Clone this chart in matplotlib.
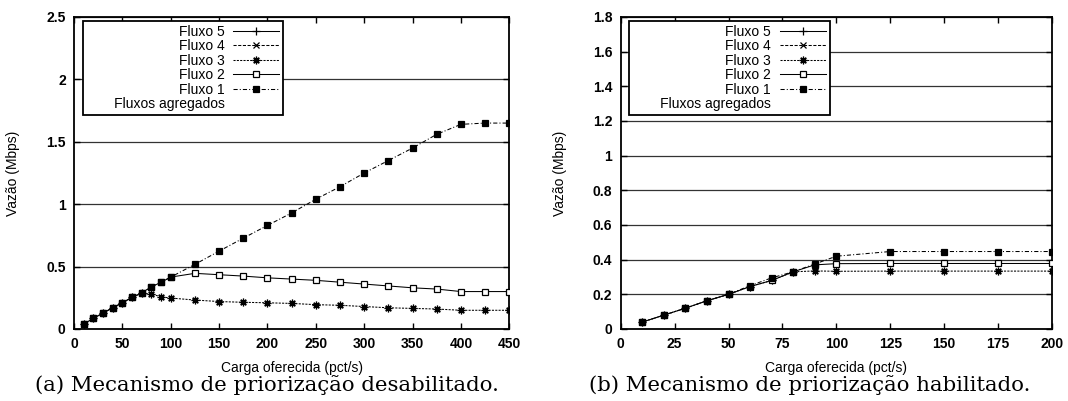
import matplotlib
matplotlib.use("Agg")
import matplotlib.pyplot as plt
from matplotlib.lines import Line2D

# ---------------- data ----------------
serie_nomes = ["Fluxo 5", "Fluxo 4", "Fluxo 3", "Fluxo 2", "Fluxo 1"]
titulo_legenda = "Fluxos agregados"

# (a) Mecanismo de priorização desabilitado
carga_a = [10, 20, 30, 40, 50, 60, 70, 80, 90, 100, 125, 150, 175, 200,
           225, 250, 275, 300, 325, 350, 375, 400, 425, 450]
fluxo1_a = [0.04, 0.085, 0.128, 0.17, 0.21, 0.254, 0.29, 0.338, 0.374, 0.416,
            0.518, 0.624, 0.728, 0.83, 0.93, 1.04, 1.14, 1.25, 1.35, 1.45,
            1.56, 1.64, 1.65, 1.65]
fluxo2_a = [0.04, 0.085, 0.128, 0.17, 0.21, 0.254, 0.29, 0.338, 0.374, 0.416,
            0.446, 0.435, 0.424, 0.41, 0.40, 0.39, 0.375, 0.36, 0.345, 0.33,
            0.32, 0.30, 0.30, 0.30]
fluxo3_a = [0.04, 0.085, 0.128, 0.17, 0.21, 0.254, 0.285, 0.28, 0.258, 0.248,
            0.232, 0.22, 0.214, 0.21, 0.205, 0.195, 0.19, 0.18, 0.17, 0.165,
            0.16, 0.15, 0.15, 0.15]
fluxo4_a = []
fluxo5_a = []

# (b) Mecanismo de priorização habilitado
carga_b = [10, 20, 30, 40, 50, 60, 70, 80, 90, 100, 125, 150, 175, 200]
fluxo1_b = [0.04, 0.08, 0.12, 0.163, 0.20, 0.25, 0.295, 0.33, 0.375, 0.42,
            0.447, 0.447, 0.447, 0.447]
fluxo2_b = [0.04, 0.08, 0.12, 0.163, 0.20, 0.245, 0.28, 0.33, 0.37, 0.377,
            0.378, 0.378, 0.378, 0.378]
fluxo3_b = [0.04, 0.08, 0.12, 0.163, 0.20, 0.245, 0.28, 0.33, 0.335, 0.333,
            0.334, 0.334, 0.334, 0.334]
fluxo4_b = []
fluxo5_b = []

xticks_a = [0, 50, 100, 150, 200, 250, 300, 350, 400, 450]
yticks_a = [0, 0.5, 1, 1.5, 2, 2.5]
ylabels_a = ["0", "0.5", "1", "1.5", "2", "2.5"]
xticks_b = [0, 25, 50, 75, 100, 125, 150, 175, 200]
yticks_b = [0, 0.2, 0.4, 0.6, 0.8, 1.0, 1.2, 1.4, 1.6, 1.8]
ylabels_b = ["0", "0.2", "0.4", "0.6", "0.8", "1", "1.2", "1.4", "1.6", "1.8"]

xlabel = "Carga oferecida (pct/s)"
ylabel = "Vazão (Mbps)"
legenda_a = "(a) Mecanismo de priorização desabilitado."
legenda_b = "(b) Mecanismo de priorização habilitado."

# ---------------- styles ----------------
estilos = {
    "Fluxo 5": dict(ls="-", marker="+", ms=6, mfc="k"),
    "Fluxo 4": dict(ls=(0, (3, 1.5)), marker="x", ms=4.5, mfc="k"),
    "Fluxo 3": dict(ls=(0, (2, 1.2)), marker=(8, 2, 0), ms=5.5, mfc="k"),
    "Fluxo 2": dict(ls="-", marker="s", ms=4, mfc="white"),
    "Fluxo 1": dict(ls=(0, (4, 2, 1, 2)), marker="s", ms=3.8, mfc="k"),
}

plt.rcParams["font.family"] = ["Liberation Sans", "DejaVu Sans"]

fig = plt.figure(figsize=(10.68, 4.01), dpi=100)
W, H = 1068.0, 401.0
ax1 = fig.add_axes([74 / W, 72 / H, 435.3 / W, 312 / H])
ax2 = fig.add_axes([620.7 / W, 72 / H, 431.3 / W, 312 / H])


def desenhar(ax, x, series, xlim, ylim, xt, yt, ylbl):
    handles = []
    for nome, ys in zip(serie_nomes, series):
        st = estilos[nome]
        xs = x[:len(ys)]
        (ln,) = ax.plot(xs, ys, color="k", lw=0.75, ls=st["ls"],
                        marker=st["marker"], ms=st["ms"], mfc=st["mfc"],
                        mec="k", mew=0.9, label=nome, zorder=3)
        handles.append(ln)
    ax.set_xlim(*xlim)
    ax.set_ylim(*ylim)
    ax.set_xticks(xt, [str(v) for v in xt], fontweight="bold", fontsize=10)
    ax.set_yticks(yt, ylbl, fontweight="bold", fontsize=10)
    ax.tick_params(direction="in", length=4, width=1, top=True, right=True,
                   pad=6)
    ax.yaxis.grid(True, color="0.2", lw=0.9)
    ax.set_axisbelow(True)
    for s in ax.spines.values():
        s.set_linewidth(1.3)
    ax.set_xlabel(xlabel, fontsize=10)
    ax.set_ylabel(ylabel, fontsize=10)

    vazio = Line2D([], [], ls="none", marker=None)
    leg = ax.legend(handles + [vazio], serie_nomes + [" " * 7 + titulo_legenda],
                    loc="upper left", bbox_to_anchor=(0.02, 0.988),
                    borderaxespad=0, markerfirst=False, handlelength=3.3,
                    handletextpad=0.65, labelspacing=0.04, borderpad=0.28,
                    fancybox=False, frameon=True, edgecolor="k",
                    facecolor="white", framealpha=1, fontsize=10,
                    numpoints=1)
    leg.get_frame().set_linewidth(1.3)
    for col in leg._legend_handle_box.get_children():
        col.align = "right"
    return leg


desenhar(ax1, carga_a, [fluxo5_a, fluxo4_a, fluxo3_a, fluxo2_a, fluxo1_a],
         (0, 450), (0, 2.5), xticks_a, yticks_a, ylabels_a)
desenhar(ax2, carga_b, [fluxo5_b, fluxo4_b, fluxo3_b, fluxo2_b, fluxo1_b],
         (0, 200), (0, 1.8), xticks_b, yticks_b, ylabels_b)

ax1.yaxis.set_label_coords((20 - 74) / 435.3, 0.5)
ax2.yaxis.set_label_coords((566.7 - 620.7) / 431.3, 0.5)
ax1.xaxis.set_label_coords(0.5, (329 - 361) / 312)
ax2.xaxis.set_label_coords(0.5, (329 - 361) / 312)

cap_font = ["DejaVu Serif"]
fig.text(266.7 / W, (H - 391) / H, legenda_a, ha="center", va="baseline",
         fontsize=15.3, family=cap_font)
fig.text(809.5 / W, (H - 391) / H, legenda_b, ha="center", va="baseline",
         fontsize=15.3, family=cap_font)

fig.savefig("out.png", dpi=100)
